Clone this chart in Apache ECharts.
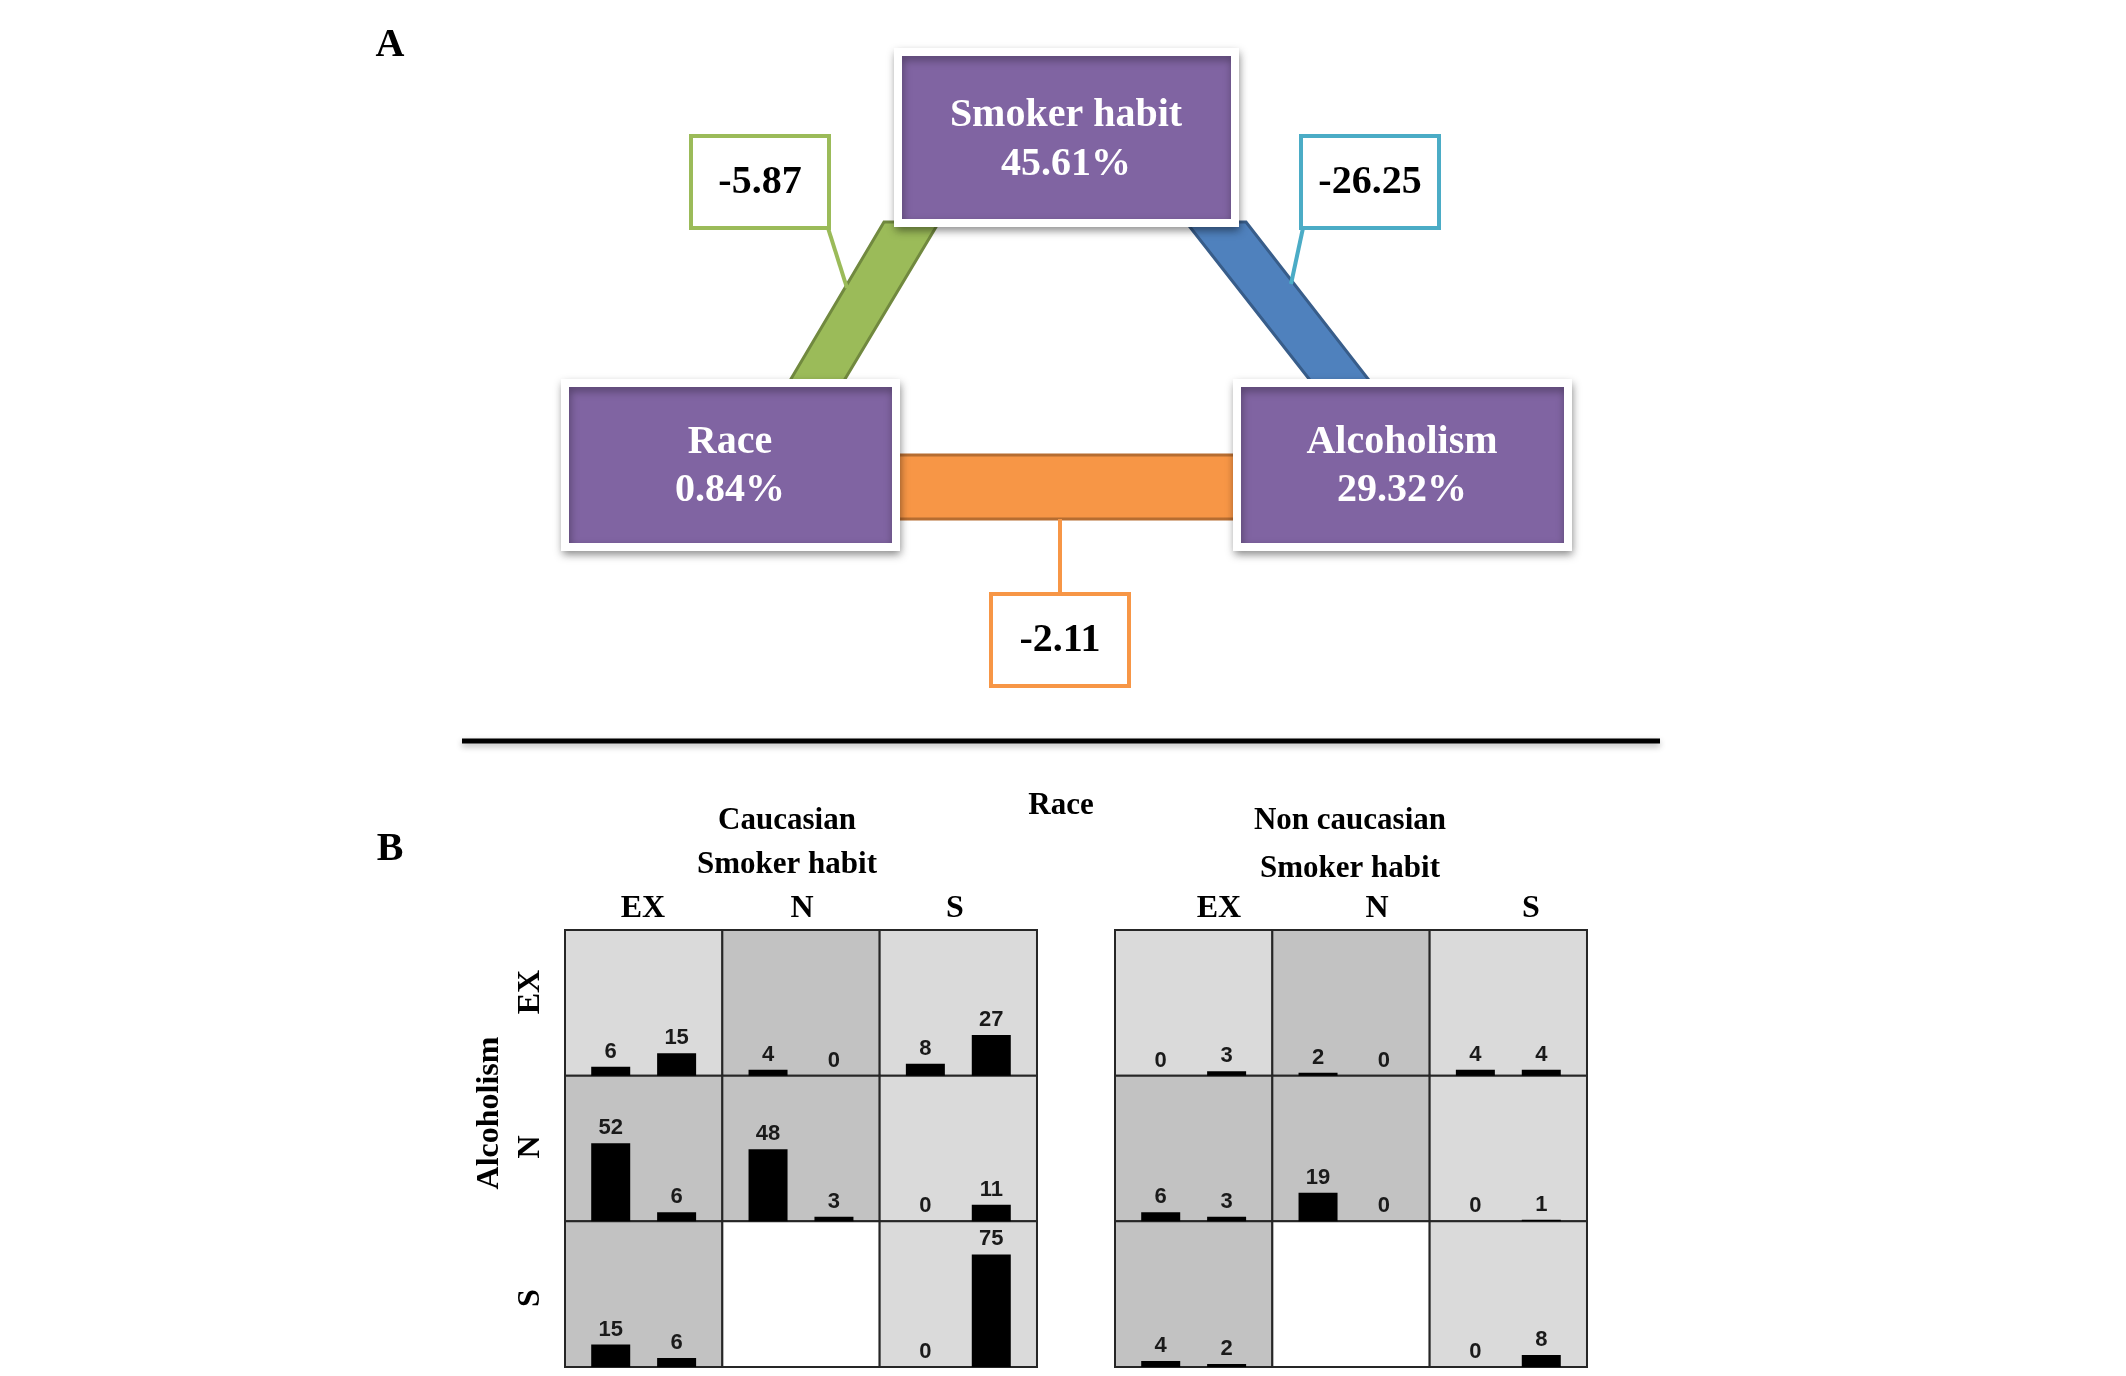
<!DOCTYPE html>
<html><head><meta charset="utf-8">
<script src="https://cdn.jsdelivr.net/npm/echarts@6/dist/echarts.min.js"></script>
<style>html,body{margin:0;padding:0;background:#fff;}#c{width:2126px;height:1376px;}</style>
</head><body><div id="c"></div>
<script>
// ---------- data ----------
const habitCats = ['EX', 'N', 'S'];
const nodeNames = ['Smoker habit', 'Race', 'Alcoholism'];
const nodePct = ['45.61%', '0.84%', '29.32%'];
const linkValues = ['-5.87', '-26.25', '-2.11']; // smoker-race, smoker-alcohol, race-alcohol
const raceGroups = ['Caucasian', 'Non caucasian'];
// rows = Alcoholism (EX, N, S), cols = Smoker habit (EX, N, S)
const cauBar1 = [[6, 4, 8], [52, 48, 0], [15, null, 0]];
const cauBar2 = [[15, 0, 27], [6, 3, 11], [6, null, 75]];
const nonBar1 = [[0, 2, 4], [6, 19, 0], [4, null, 0]];
const nonBar2 = [[3, 0, 4], [3, 0, 1], [2, null, 8]];
const cellShade = [['light', 'dark', 'light'], ['dark', 'dark', 'light'], ['dark', 'none', 'light']];

// ---------- styling ----------
const SERIF = "'Liberation Serif','Times New Roman',serif";
const SANS = "'Liberation Sans',Arial,sans-serif";
const shadeColor = { light: '#dadada', dark: '#c2c2c2', none: '#ffffff' };
const PURPLE = '#8064a2';

const chart = echarts.init(document.getElementById('c'));

// ---------- panel B grids ----------
const grids = [], xAxes = [], yAxes = [], series = [];
const cw = 157.33, ch = 145.67, gTop = 930;
const gLeft = [565, 1115];
const bars1 = [cauBar1, nonBar1], bars2 = [cauBar2, nonBar2];
for (let r = 0; r < 2; r++) {
  for (let i = 0; i < 3; i++) {
    for (let j = 0; j < 3; j++) {
      const gi = grids.length;
      grids.push({
        left: gLeft[r] + j * cw, top: gTop + i * ch, width: cw, height: ch,
        show: true, backgroundColor: shadeColor[cellShade[i][j]],
        borderColor: '#262626', borderWidth: 2
      });
      xAxes.push({ gridIndex: gi, type: 'category', data: [habitCats[j]], show: false });
      yAxes.push({ gridIndex: gi, type: 'value', min: 0, max: 97, show: false });
      const lab = { show: true, position: 'top', distance: 4, fontFamily: SANS, fontWeight: 'bold', fontSize: 22, color: '#1a1a1a' };
      series.push({
        type: 'bar', xAxisIndex: gi, yAxisIndex: gi, barWidth: 39, barGap: '69%',
        itemStyle: { color: '#000' }, label: lab, silent: true,
        data: [bars1[r][i][j]]
      });
      series.push({
        type: 'bar', xAxisIndex: gi, yAxisIndex: gi, barWidth: 39, barGap: '69%',
        itemStyle: { color: '#000' }, label: lab, silent: true,
        data: [bars2[r][i][j]]
      });
    }
  }
}

// ---------- graphic (panel A diagram + texts) ----------
function txt(text, x, y, size, color, family, rot) {
  const el = {
    type: 'text', x: x, y: y, z: 50,
    style: { text: text, x: 0, y: 0, fill: color || '#000', font: 'bold ' + size + 'px ' + (family || SERIF), textAlign: 'center', textVerticalAlign: 'middle' }
  };
  if (rot) el.rotation = rot;
  return el;
}
function box(x, y, w, h) {
  return {
    type: 'rect', z: 20, shape: { x: x, y: y, width: w, height: h },
    style: { fill: PURPLE, stroke: '#ffffff', lineWidth: 8, shadowBlur: 8, shadowOffsetX: 1, shadowOffsetY: 4, shadowColor: 'rgba(0,0,0,0.35)' }
  };
}
function labelBox(x, y, w, h, color) {
  return { type: 'rect', z: 30, shape: { x: x, y: y, width: w, height: h }, style: { fill: '#fff', stroke: color, lineWidth: 4 } };
}
function line(x1, y1, x2, y2, color, lw, z) {
  return { type: 'line', z: z || 12, shape: { x1: x1, y1: y1, x2: x2, y2: y2 }, style: { stroke: color, lineWidth: lw } };
}

const graphics = [
  // bands
  { type: 'polygon', z: 10, shape: { points: [[884, 222], [939, 222], [842, 384], [788, 384]] }, style: { fill: '#9bbb59', stroke: '#71893f', lineWidth: 3 } },
  { type: 'polygon', z: 10, shape: { points: [[1186, 222], [1246, 222], [1372, 384], [1313, 384]] }, style: { fill: '#4f81bd', stroke: '#385d8a', lineWidth: 3 } },
  { type: 'rect', z: 10, shape: { x: 890, y: 455, width: 360, height: 64 }, style: { fill: '#f79646', stroke: '#b66d31', lineWidth: 3 } },
  // leader lines
  line(828, 228, 847, 288, '#9bbb59', 4),
  line(1303, 228, 1291, 284, '#4bacc6', 4),
  line(1060, 519, 1060, 594, '#f79646', 4),
  // node boxes
  box(898, 52, 337, 171),
  box(565, 383, 331, 164),
  box(1237, 383, 331, 164),
  txt(nodeNames[0], 1066, 116, 40, '#fff'),
  txt(nodePct[0], 1066, 165, 40, '#fff'),
  txt(nodeNames[1], 730, 443, 40, '#fff'),
  txt(nodePct[1], 730, 491, 40, '#fff'),
  txt(nodeNames[2], 1402, 443, 40, '#fff'),
  txt(nodePct[2], 1402, 491, 40, '#fff'),
  // value boxes
  labelBox(691, 136, 138, 92, '#9bbb59'),
  labelBox(1301, 136, 138, 92, '#4bacc6'),
  labelBox(991, 594, 138, 92, '#f79646'),
  txt(linkValues[0], 760, 183, 40, '#000'),
  txt(linkValues[1], 1370, 183, 40, '#000'),
  txt(linkValues[2], 1060, 641, 40, '#000'),
  // panel labels
  txt('A', 390, 46, 40, '#000'),
  txt('B', 390, 850, 40, '#000'),
  // separator
  { type: 'line', z: 12, shape: { x1: 462, y1: 741, x2: 1660, y2: 741 }, style: { stroke: '#000', lineWidth: 5, shadowBlur: 6, shadowOffsetY: 3, shadowColor: 'rgba(0,0,0,0.3)' } },
  // panel B headings
  txt('Race', 1061, 806, 31, '#000'),
  txt(raceGroups[0], 787, 821, 31, '#000'),
  txt('Smoker habit', 787, 865, 31, '#000'),
  txt(raceGroups[1], 1350, 821, 31, '#000'),
  txt('Smoker habit', 1350, 869, 31, '#000'),
  txt(habitCats[0], 643, 909, 32, '#000'),
  txt(habitCats[1], 802, 909, 32, '#000'),
  txt(habitCats[2], 955, 909, 32, '#000'),
  txt(habitCats[0], 1219, 909, 32, '#000'),
  txt(habitCats[1], 1377, 909, 32, '#000'),
  txt(habitCats[2], 1531, 909, 32, '#000'),
  txt('Alcoholism', 490, 1113, 32, '#000', SERIF, Math.PI / 2),
  txt(habitCats[0], 531, 992, 32, '#000', SERIF, Math.PI / 2),
  txt(habitCats[1], 531, 1147, 32, '#000', SERIF, Math.PI / 2),
  txt(habitCats[2], 531, 1298, 32, '#000', SERIF, Math.PI / 2)
];

chart.setOption({
  animation: false,
  backgroundColor: '#ffffff',
  grid: grids,
  xAxis: xAxes,
  yAxis: yAxes,
  series: series,
  graphic: { elements: graphics }
});
</script>
</body></html>
